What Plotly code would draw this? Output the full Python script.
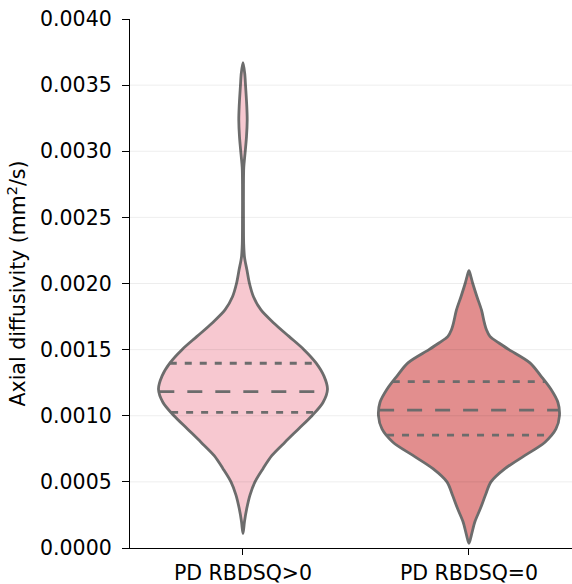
import numpy as np
import plotly.graph_objects as go

# ---- data ----
categories = ["PD RBDSQ>0", "PD RBDSQ=0"]
fill_colors = ["#f7c8d0", "#e28e8e"]

# violin 1 profile: value (mm^2/s) and half-width (pixels at 226 px per category)
v1_values = [0.00367, 0.00359, 0.00349, 0.00334, 0.003236, 0.00311, 0.00298, 0.00288,
             0.00275, 0.00250, 0.00230, 0.00220, 0.00210, 0.00200, 0.00190, 0.00180,
             0.00170, 0.00160, 0.00150, 0.00140, 0.00130, 0.00120, 0.00110, 0.00100,
             0.00090, 0.00080, 0.00070, 0.00060, 0.00050, 0.00040, 0.00030, 0.00020,
             0.00011]
v1_halfw = [0.0, 1.7, 2.6, 3.8, 4.2, 3.5, 2.0, 0.8,
            0.5, 0.5, 0.7, 1.5, 4.0, 6.5, 10.5, 18.0,
            31.0, 46.0, 61.0, 73.0, 81.0, 84.5, 80.0, 69.0,
            55.5, 42.0, 29.0, 20.0, 12.0, 7.0, 3.8, 1.5,
            0.0]

# violin 2 profile
v2_values = [0.002097, 0.00205, 0.00200, 0.00190, 0.00180, 0.00170, 0.00165, 0.00160,
             0.00155, 0.00150, 0.00140, 0.00130, 0.00120, 0.00110, 0.00100, 0.00090,
             0.00080, 0.00070, 0.00060, 0.00050, 0.00040, 0.00030, 0.00020, 0.00010,
             0.0000355]
v2_halfw = [0.0, 2.0, 3.8, 8.0, 12.5, 15.5, 17.5, 21.0,
            30.0, 40.0, 61.0, 72.0, 82.0, 89.0, 90.5, 87.0,
            76.0, 56.0, 36.0, 22.0, 16.5, 11.5, 6.0, 2.5,
            0.0]

# quartiles (Q1, median, Q3)
v1_quartiles = [0.001026, 0.001182, 0.001397]
v2_quartiles = [0.000854, 0.001043, 0.001258]

y_ticks = [0.0, 0.0005, 0.0010, 0.0015, 0.0020, 0.0025, 0.0030, 0.0035, 0.0040]

PX_PER_UNIT = 226.0
line_gray = "rgb(108,108,108)"

profiles = [(v1_values, v1_halfw, v1_quartiles), (v2_values, v2_halfw, v2_quartiles)]

fig = go.Figure()
for i, (vals, hw, qs) in enumerate(profiles):
    vals = np.array(vals)
    hw = np.array(hw) / PX_PER_UNIT
    xs = np.concatenate([i - hw, (i + hw)[::-1][1:]])
    ys = np.concatenate([vals, vals[::-1][1:]])
    fig.add_trace(go.Scatter(
        x=xs, y=ys, mode="lines", fill="toself", fillcolor=fill_colors[i],
        line=dict(color=line_gray, width=2.8, shape="spline", smoothing=0.9),
        hoverinfo="skip", showlegend=False))
    order = np.argsort(vals)
    for k, q in enumerate(qs):
        w = float(np.interp(q, vals[order], hw[order]))
        dash = "15px,13px" if k == 1 else "7px,8px"
        fig.add_trace(go.Scatter(
            x=[i - w, i + w], y=[q, q], mode="lines",
            line=dict(color=line_gray, width=2.8, dash=dash),
            hoverinfo="skip", showlegend=False))

# faint horizontal grid lines
for t in y_ticks[1:-1]:
    fig.add_shape(type="line", xref="paper", x0=0, x1=1, yref="y", y0=t, y1=t,
                  line=dict(color="rgba(0,0,0,0.07)", width=1), layer="above")

font = dict(family="DejaVu Sans", size=20.5, color="black")
fig.update_layout(
    width=572, height=584,
    margin=dict(l=130, r=0, t=19, b=36),
    paper_bgcolor="white", plot_bgcolor="white",
    font=font,
    xaxis=dict(range=[-0.5, 1.456], tickvals=[0, 1], ticktext=categories,
               showline=True, linecolor="black", linewidth=1.3, mirror=False,
               ticks="outside", ticklen=6, tickwidth=1.3, tickcolor="black",
               showgrid=False, zeroline=False, tickfont=font),
    yaxis=dict(range=[0, 0.004], tickvals=y_ticks, tickformat=".4f",
               showline=True, linecolor="black", linewidth=1.3,
               ticks="outside", ticklen=7, tickwidth=1.3, tickcolor="black",
               showgrid=False, zeroline=False, tickfont=font,
               ticklabelstandoff=6,
               title=dict(text="Axial diffusivity (mm<sup>2</sup>/s)", font=font, standoff=8)),
)

fig.write_html("out.html")
